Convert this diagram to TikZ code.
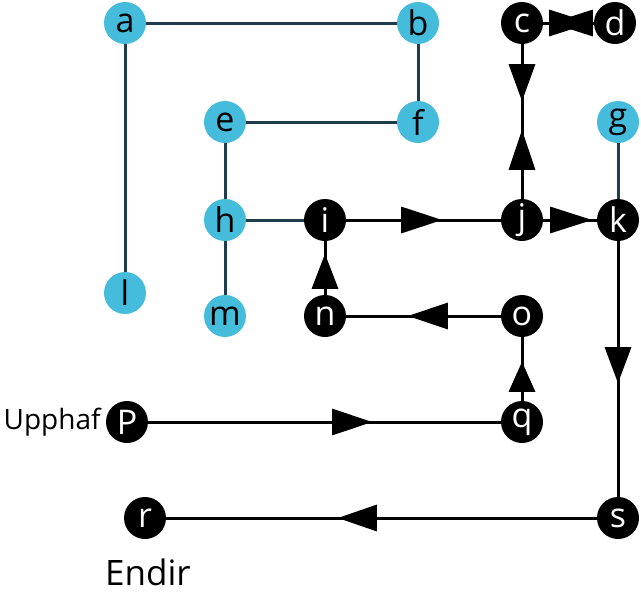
\documentclass[tikz,border=0pt]{standalone}
\usepackage{fontspec}
\setmainfont{Open Sans}
\usetikzlibrary{arrows.meta,decorations.markings}
\definecolor{nodeblue}{RGB}{69,188,219}
\definecolor{slate}{RGB}{30,60,75}
\tikzset{
  vb/.style={circle,fill=nodeblue,minimum size=42pt,inner sep=0pt,text=black,font=\fontsize{34}{34}\selectfont},
  vk/.style={circle,fill=black,minimum size=42pt,inner sep=0pt,text=white,font=\fontsize{34}{34}\selectfont},
  ue/.style={draw=slate,line width=3pt},
  de/.style={draw=black,line width=3pt},
  arr/.style 2 args={postaction={decorate,decoration={markings,mark=at position #1 with {\arrow{Triangle[length=#2,width=26pt]}}}}},
  lbl/.style={font=\fontsize{#1}{#1}\selectfont,inner sep=0pt}
}
\begin{document}
\begin{tikzpicture}[x=1pt,y=-1pt]
\path[use as bounding box] (0,0) rectangle (641,600);
\node[vb] (a) at (125,23) {a};
\node[vb] (b) at (418,23) {b};
\node[vk] (c) at (522,23) {c};
\node[vk] (d) at (615,23) {d};
\node[vb] (e) at (225,122) {e};
\node[vb] (f) at (418,122) {f};
\node[vb] (g) at (618,122) {g};
\node[vb] (h) at (225,220) {h};
\node[vk] (i) at (325,220) {i};
\node[vk] (j) at (522,220) {j};
\node[vk] (k) at (618,220) {k};
\node[vb] (l) at (125,293) {l};
\node[vb] (m) at (225,316) {m};
\node[vk] (n) at (325,316) {n};
\node[vk] (o) at (522,316) {o};
\node[vk] (p) at (127,422) {P};
\node[vk] (q) at (522,422) {q};
\node[vk] (r) at (145,518) {r};
\node[vk] (s) at (618,518) {s};
\node[lbl=28,anchor=east] (upphaf) at ([xshift=-5pt]p.west) {Upphaf};
\node[lbl=35] (endir) at (148,572) {Endir};
% undirected
\draw[ue] (a) -- (b);
\draw[ue] (b) -- (f);
\draw[ue] (e) -- (f);
\draw[ue] (e) -- (h);
\draw[ue] (h) -- (m);
\draw[ue] (h) -- (i);
\draw[ue] (a) -- (l);
\draw[ue] (g) -- (k);
% directed
\draw[de,arr={48pt}{42pt}] (c) -- (d);
\draw[de,arr={43pt}{42pt}] (d) -- (c);
\draw[de,arr={57pt}{37pt}] (c) -- (j);
\draw[de,arr={69pt}{40pt}] (j) -- (c);
\draw[de,arr={96pt}{41pt}] (i) -- (j);
\draw[de,arr={49pt}{42pt}] (j) -- (k);
\draw[de,arr={41pt}{35pt}] (n) -- (i);
\draw[de,arr={93pt}{40pt}] (o) -- (n);
\draw[de,arr={39pt}{30pt}] (q) -- (o);
\draw[de,arr={224pt}{40pt}] (p) -- (q);
\draw[de,arr={142pt}{36pt}] (k) -- (s);
\draw[de,arr={259pt}{39pt}] (s) -- (r);
\end{tikzpicture}
\end{document}
